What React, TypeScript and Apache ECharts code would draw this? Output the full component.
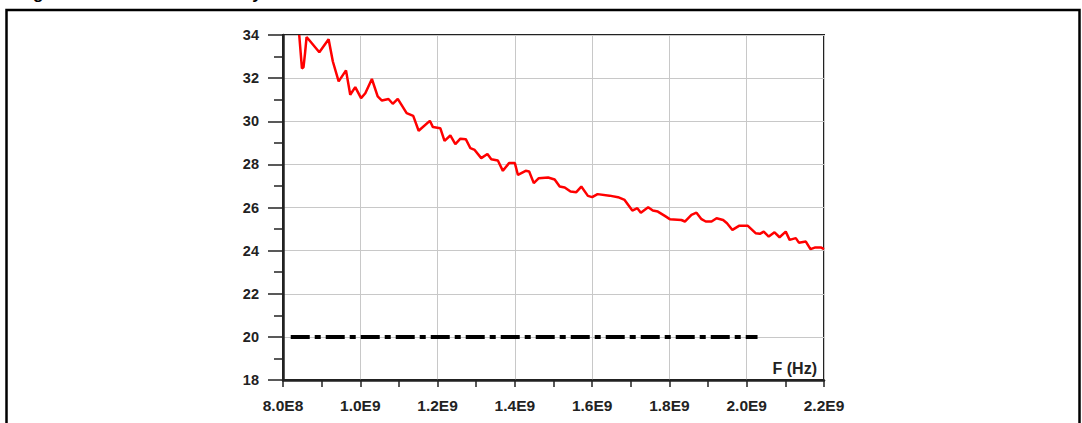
import React, { useEffect, useRef } from "react";
import * as echarts from "echarts";

// Frequency (Hz) of the measured sensitivity curve
const freqHz = [
  842e6, 849e6, 853e6, 857e6, 861e6, 866e6, 894e6, 918e6, 929e6, 944e6, 963e6, 974e6, 987e6,
  1002e6, 1013e6, 1030e6, 1045e6, 1056e6, 1073e6, 1084e6, 1097e6, 1120e6, 1137e6, 1151e6,
  1180e6, 1188e6, 1207e6, 1218e6, 1233e6, 1246e6, 1259e6, 1273e6, 1285e6, 1296e6, 1313e6,
  1329e6, 1339e6, 1356e6, 1369e6, 1385e6, 1400e6, 1408e6, 1428e6, 1437e6, 1449e6, 1462e6,
  1486e6, 1503e6, 1516e6, 1529e6, 1544e6, 1559e6, 1572e6, 1589e6, 1600e6, 1614e6, 1645e6,
  1667e6, 1684e6, 1704e6, 1717e6, 1726e6, 1745e6, 1757e6, 1770e6, 1788e6, 1801e6, 1831e6,
  1840e6, 1857e6, 1870e6, 1883e6, 1894e6, 1909e6, 1922e6, 1939e6, 1949e6, 1963e6, 1980e6,
  2003e6, 2023e6, 2034e6, 2044e6, 2057e6, 2072e6, 2085e6, 2101e6, 2111e6, 2127e6, 2135e6,
  2153e6, 2165e6, 2176e6, 2193e6, 2200e6,
];
// Sensitivity values
const sensitivity = [
  34.0, 32.45, 32.5, 33.15, 33.9, 33.8, 33.2, 33.8, 32.77, 31.85, 32.36, 31.23, 31.58,
  31.07, 31.3, 31.96, 31.15, 30.96, 31.03, 30.81, 31.04, 30.38, 30.25, 29.56,
  30.02, 29.73, 29.68, 29.09, 29.34, 28.94, 29.19, 29.17, 28.75, 28.67, 28.29,
  28.48, 28.24, 28.18, 27.7, 28.06, 28.06, 27.51, 27.7, 27.67, 27.13, 27.36,
  27.39, 27.3, 26.97, 26.93, 26.74, 26.71, 26.97, 26.54, 26.48, 26.62, 26.55,
  26.48, 26.35, 25.86, 25.97, 25.76, 26.01, 25.86, 25.81, 25.61, 25.46, 25.42,
  25.35, 25.66, 25.76, 25.46, 25.35, 25.35, 25.5, 25.42, 25.27, 24.96, 25.15,
  25.15, 24.81, 24.78, 24.88, 24.65, 24.85, 24.62, 24.88, 24.5, 24.58, 24.37,
  24.42, 24.07, 24.14, 24.14, 24.07,
];
// Reference (limit) line
const refFreq = [0.82e9, 2.028e9];
const refLevel = [20, 20];

const xTicks = { min: 0.8e9, max: 2.2e9, interval: 0.2e9 };
const yTicks = { min: 18, max: 34, interval: 2 };

const titleText = "Figure 10. Receiver sensitivity";
const xAxisName = "F (Hz)";

function sci(v: number): string {
  if (v === 0) return "0";
  const e = Math.floor(Math.log10(v) + 1e-9);
  const m = v / Math.pow(10, e);
  return m.toFixed(1) + "E" + e;
}

const FONT = "'Liberation Sans', Arial, Helvetica, sans-serif";

export default function App() {
  const ref = useRef<HTMLDivElement>(null);
  useEffect(() => {
    if (!ref.current) return;
    const chart = echarts.init(ref.current, undefined, { renderer: "svg" });
    const curve = freqHz.map((f, i) => [f, sensitivity[i]]);
    const refLine = refFreq.map((f, i) => [f, refLevel[i]]);
    chart.setOption({
      animation: false,
      backgroundColor: "#ffffff",
      grid: {
        left: 283,
        right: 258,
        top: 35,
        bottom: 43,
        show: true,
        borderColor: "#222",
        borderWidth: 2,
        backgroundColor: "transparent",
      },
      xAxis: {
        type: "value",
        min: xTicks.min,
        max: xTicks.max,
        interval: xTicks.interval,
        axisLine: { show: true, onZero: false, lineStyle: { color: "#222", width: 2.5 } },
        axisTick: { show: true, inside: false, length: 7, lineStyle: { color: "#222", width: 1.5 } },
        minorTick: { show: true, splitNumber: 2, length: 7, lineStyle: { color: "#222", width: 1.5 } },
        splitLine: { show: true, lineStyle: { color: "#c8c8c8", width: 1 } },
        axisLabel: {
          margin: 17,
          color: "#222",
          fontFamily: FONT,
          fontWeight: "bold",
          fontSize: 15.5,
          formatter: (v: number) => sci(v),
        },
      },
      yAxis: {
        type: "value",
        min: yTicks.min,
        max: yTicks.max,
        interval: yTicks.interval,
        axisLine: { show: true, onZero: false, lineStyle: { color: "#222", width: 2.5 } },
        axisTick: { show: true, inside: false, length: 15, lineStyle: { color: "#222", width: 1.5 } },
        minorTick: { show: true, splitNumber: 2, length: 9, lineStyle: { color: "#222", width: 1.5 } },
        splitLine: { show: true, lineStyle: { color: "#c8c8c8", width: 1 } },
        axisLabel: {
          margin: 24,
          color: "#222",
          fontFamily: FONT,
          fontWeight: "bold",
          fontSize: 14.5,
        },
      },
      series: [
        {
          type: "line",
          data: refLine,
          showSymbol: false,
          lineStyle: { color: "#000", width: 4, type: [19, 5, 6, 5], cap: "butt" },
          z: 3,
        },
        {
          type: "line",
          data: curve,
          showSymbol: false,
          lineStyle: { color: "#ff0000", width: 2.5 },
          z: 4,
        },
      ],
      graphic: [
        {
          type: "rect",
          shape: { x: 6.5, y: 10, width: 1073, height: 430 },
          style: { fill: "none", stroke: "#000", lineWidth: 2.5 },
          silent: true,
        },
        {
          type: "text",
          x: 18,
          y: -7,
          style: {
            text: titleText,
            fill: "#000",
            font: "bold 17px " + FONT,
            textAlign: "left",
            textVerticalAlign: "middle",
          },
          silent: true,
        },
        {
          type: "text",
          x: 817,
          y: 368,
          style: {
            text: xAxisName,
            fill: "#222",
            font: "bold 16px " + FONT,
            textAlign: "right",
            textVerticalAlign: "middle",
          },
          silent: true,
        },
      ],
    });
    return () => chart.dispose();
  }, []);
  return (
    <div
      ref={ref}
      style={{ position: "absolute", left: 0, top: 0, width: 1082, height: 423 }}
    />
  );
}
